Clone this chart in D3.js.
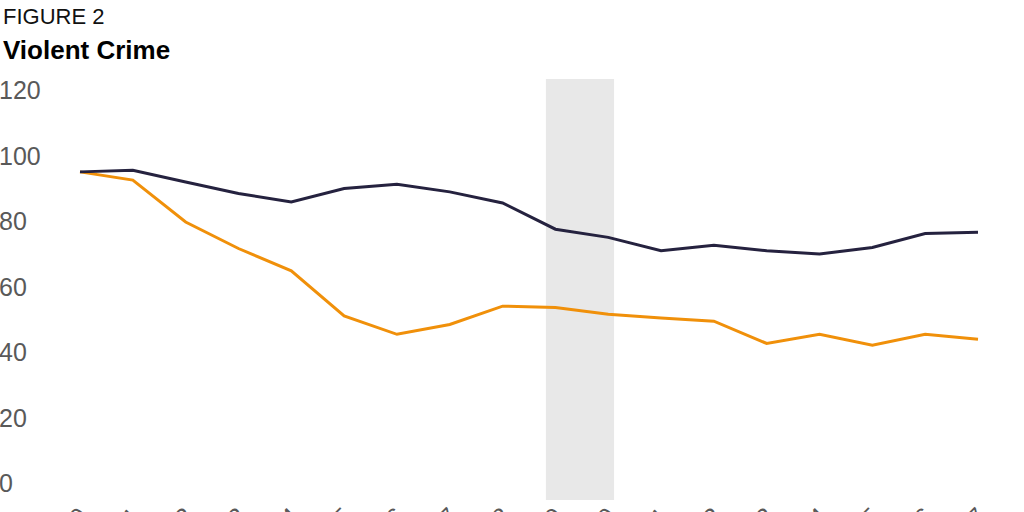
<!DOCTYPE html>
<html>
<head>
<meta charset="utf-8">
<script src="https://cdn.jsdelivr.net/npm/d3@7"></script>
<style>
  html, body { margin: 0; padding: 0; background: #fff; }
  svg { display: block; }
</style>
</head>
<body>
<svg id="chart" width="1024" height="512"></svg>
<script>
// ---- data ----
const years = [2000, 2001, 2002, 2003, 2004, 2005, 2006, 2007, 2008, 2009,
               2010, 2011, 2012, 2013, 2014, 2015, 2016, 2017];
const seriesDark = [95.0, 95.5, 91.9, 88.4, 85.8, 89.9, 91.2, 88.9, 85.5, 77.5,
                    75.0, 70.9, 72.6, 70.9, 69.9, 71.9, 76.2, 76.6];
const seriesOrange = [95.0, 92.5, 79.7, 71.6, 64.8, 51.0, 45.4, 48.4, 54.0, 53.6,
                      51.5, 50.4, 49.4, 42.6, 45.4, 42.1, 45.4, 43.9];
const yTicks = [0, 20, 40, 60, 80, 100, 120];
const shadePeriod = [2008.82, 2010.11];
const figureLabel = "FIGURE 2";
const titleText = "Violent Crime";

// ---- layout ----
const svg = d3.select("#chart");
const x = d3.scaleLinear().domain([years[0], years[years.length - 1]]).range([80, 978]);
const y = d3.scaleLinear().domain([0, 120]).range([483, 90]);
const plotTop = 79, plotBottom = 500;

// shaded period
svg.append("rect")
  .attr("x", x(shadePeriod[0]))
  .attr("y", plotTop)
  .attr("width", x(shadePeriod[1]) - x(shadePeriod[0]))
  .attr("height", plotBottom - plotTop)
  .attr("fill", "#e8e8e8");

// titles
svg.append("text")
  .attr("x", 3).attr("y", 24)
  .attr("font-family", "Liberation Sans, Arial, sans-serif")
  .attr("font-size", 22)
  .attr("fill", "#111")
  .text(figureLabel);
svg.append("text")
  .attr("x", 3).attr("y", 59)
  .attr("font-family", "Liberation Sans, Arial, sans-serif")
  .attr("font-size", 26)
  .attr("font-weight", "bold")
  .attr("fill", "#000")
  .text(titleText);

// y axis labels (left aligned)
const yAxis = d3.axisLeft(y).tickValues(yTicks).tickSize(0).tickFormat(d3.format("d"));
const yg = svg.append("g").call(yAxis);
yg.select(".domain").remove();
yg.selectAll("text")
  .attr("x", -1)
  .attr("dy", "0.35em")
  .attr("text-anchor", "start")
  .attr("font-family", "Liberation Sans, Arial, sans-serif")
  .attr("font-size", 25)
  .attr("fill", "#595959");

// x axis labels (rotated, mostly cut off by the frame)
const xAxis = d3.axisBottom(x).tickValues(years).tickSize(0).tickFormat(d3.format("d"));
const xg = svg.append("g").attr("transform", "translate(0,518)").call(xAxis);
xg.select(".domain").remove();
xg.selectAll(".tick text")
  .attr("y", 0).attr("dy", 0)
  .attr("text-anchor", "end")
  .attr("transform", "translate(9,0) rotate(-45)")
  .attr("font-family", "Liberation Sans, Arial, sans-serif")
  .attr("font-size", 25)
  .attr("fill", "#595959");

// lines
const line = d3.line().x((d, i) => x(years[i])).y(d => y(d));
svg.append("path")
  .datum(seriesOrange)
  .attr("d", line)
  .attr("fill", "none")
  .attr("stroke", "#f0900a")
  .attr("stroke-width", 3);
svg.append("path")
  .datum(seriesDark)
  .attr("d", line)
  .attr("fill", "none")
  .attr("stroke", "#25223f")
  .attr("stroke-width", 3);
</script>
</body>
</html>
